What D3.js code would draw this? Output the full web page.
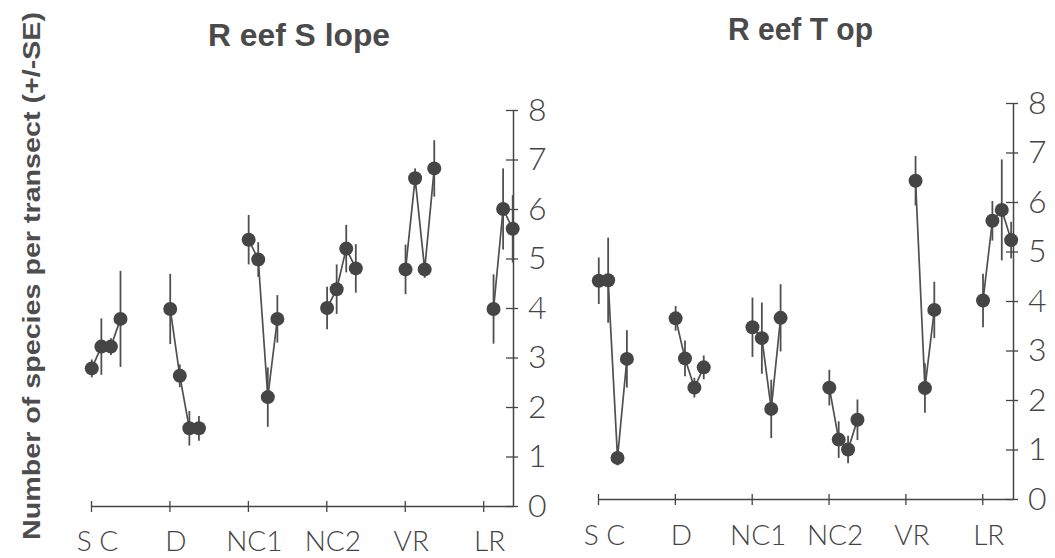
<!DOCTYPE html>
<html>
<head>
<meta charset="utf-8">
<script src="https://cdn.jsdelivr.net/npm/d3@7"></script>
<style>
  html, body { margin: 0; padding: 0; background: #fff; }
  svg { display: block; }
</style>
</head>
<body>
<div id="chart"></div>
<script>
// Habitats along the x axis, four transect sites within each habitat
const categories = ["S C", "D", "NC1", "NC2", "VR", "LR"];
const yTicks = [0, 1, 2, 3, 4, 5, 6, 7, 8];

// Reef slope: mean species per transect by habitat (rows) and site (columns)
const slopeMean = [
  [2.78, 3.22, 3.22, 3.78],
  [3.98, 2.63, 1.57, 1.57],
  [5.38, 4.98, 2.20, 3.78],
  [4.00, 4.38, 5.20, 4.80],
  [4.78, 6.62, 4.78, 6.82],
  [null, 3.98, 6.00, 5.60]
];
const slopeSE = [
  [0.18, 0.57, 0.17, 0.97],
  [0.71, 0.23, 0.35, 0.25],
  [0.50, 0.35, 0.60, 0.48],
  [0.43, 0.50, 0.48, 0.49],
  [0.50, 0.20, 0.17, 0.57],
  [null, 0.70, 0.82, 0.68]
];

// Reef top
const topMean = [
  [4.41, 4.42, 0.83, 2.83],
  [3.65, 2.84, 2.25, 2.66],
  [3.47, 3.25, 1.82, 3.66],
  [2.25, 1.20, 1.00, 1.60],
  [null, 6.43, 2.24, 3.82],
  [4.01, 5.62, 5.84, 5.23]
];
const topSE = [
  [0.47, 0.86, 0.15, 0.58],
  [0.25, 0.36, 0.20, 0.24],
  [0.60, 0.72, 0.59, 0.68],
  [0.36, 0.37, 0.28, 0.41],
  [null, 0.50, 0.50, 0.57],
  [0.54, 0.40, 1.02, 0.37]
];

const W = 1055, H = 558;
const ink = "#454545";
const tickFont = "Lato, 'DejaVu Sans', sans-serif";

const svg = d3.select("#chart").append("svg")
  .attr("width", W).attr("height", H)
  .attr("viewBox", `0 0 ${W} ${H}`);

// shared y-axis title on the far left
svg.append("text")
  .attr("transform", "translate(40,540) rotate(-90)")
  .attr("x", 0).attr("y", 0)
  .attr("textLength", 528).attr("lengthAdjust", "spacingAndGlyphs")
  .style("font-family", "'Liberation Sans', Arial, sans-serif")
  .style("font-weight", "bold")
  .style("font-size", "23px")
  .style("fill", "#4d4d4d")
  .text("Number of species per transect (+/-SE)");

function drawPanel(opt) {
  const g = svg.append("g");
  // habitat index scale; the domain runs a little past LR so the base line reaches the y axis
  const x = d3.scaleLinear().domain([0, opt.xMax]).range([opt.left, opt.right]);
  const y = d3.scaleLinear().domain([0, 8]).range([opt.base, opt.top]);
  const siteStep = 0.122, siteStart = 0.01;

  // x axis with crossing ticks
  const xa = g.append("g")
    .attr("transform", `translate(0,${opt.base})`)
    .call(d3.axisBottom(x)
      .tickValues(d3.range(categories.length))
      .tickFormat(i => categories[i])
      .tickSize(6).tickSizeOuter(0));
  xa.select(".domain").attr("stroke", ink).attr("stroke-width", 1.5);
  xa.selectAll(".tick line").attr("y1", -5).attr("stroke", ink).attr("stroke-width", 1.3);
  xa.selectAll(".tick text")
    .attr("y", opt.labelDrop).attr("dy", 0).attr("dx", 6)
    .style("font-family", tickFont).style("font-weight", 300)
    .style("font-size", "28px").style("fill", "#444");

  // y axis on the right with crossing ticks
  const ya = g.append("g")
    .attr("transform", `translate(${opt.right},0)`)
    .call(d3.axisRight(y).tickValues(yTicks).tickSize(5).tickSizeOuter(0).tickPadding(10));
  ya.select(".domain").attr("stroke", ink).attr("stroke-width", 1.5);
  ya.selectAll(".tick line").attr("x1", -7).attr("stroke", ink).attr("stroke-width", 1.3);
  ya.selectAll(".tick text")
    .style("font-family", tickFont).style("font-weight", 300)
    .style("font-size", "32px").style("fill", "#444");

  // one group of sites per habitat
  opt.mean.forEach((row, ci) => {
    const pts = row.map((m, si) => m == null ? null : {
      px: x(ci + siteStart + si * siteStep), m, se: opt.se[ci][si]
    }).filter(d => d);

    g.append("path")
      .datum(pts)
      .attr("fill", "none").attr("stroke", "#505050").attr("stroke-width", 1.7)
      .attr("d", d3.line().x(d => d.px).y(d => y(d.m)));

    g.selectAll(null).data(pts).enter().append("line")
      .attr("x1", d => d.px).attr("x2", d => d.px)
      .attr("y1", d => y(d.m - d.se)).attr("y2", d => y(d.m + d.se))
      .attr("stroke", "#505050").attr("stroke-width", 1.8);

    g.selectAll(null).data(pts).enter().append("circle")
      .attr("cx", d => d.px).attr("cy", d => y(d.m)).attr("r", 7)
      .attr("fill", ink);
  });

  g.append("text")
    .attr("x", opt.titleX).attr("y", opt.titleY)
    .attr("textLength", opt.titleLen).attr("lengthAdjust", "spacingAndGlyphs")
    .style("font-family", "'Liberation Sans', Arial, sans-serif")
    .style("font-weight", "bold").style("font-size", "31px").style("fill", "#4a4a4a")
    .text(opt.title);
}

drawPanel({
  title: "R eef S lope", titleX: 208, titleY: 46, titleLen: 182,
  mean: slopeMean, se: slopeSE,
  left: 91, right: 513, xMax: 5.38, base: 506, top: 110, labelDrop: 45
});

drawPanel({
  title: "R eef T op", titleX: 728, titleY: 40, titleLen: 145,
  mean: topMean, se: topSE,
  left: 598, right: 1013, xMax: 5.4, base: 499, top: 103, labelDrop: 46
});
</script>
</body>
</html>
